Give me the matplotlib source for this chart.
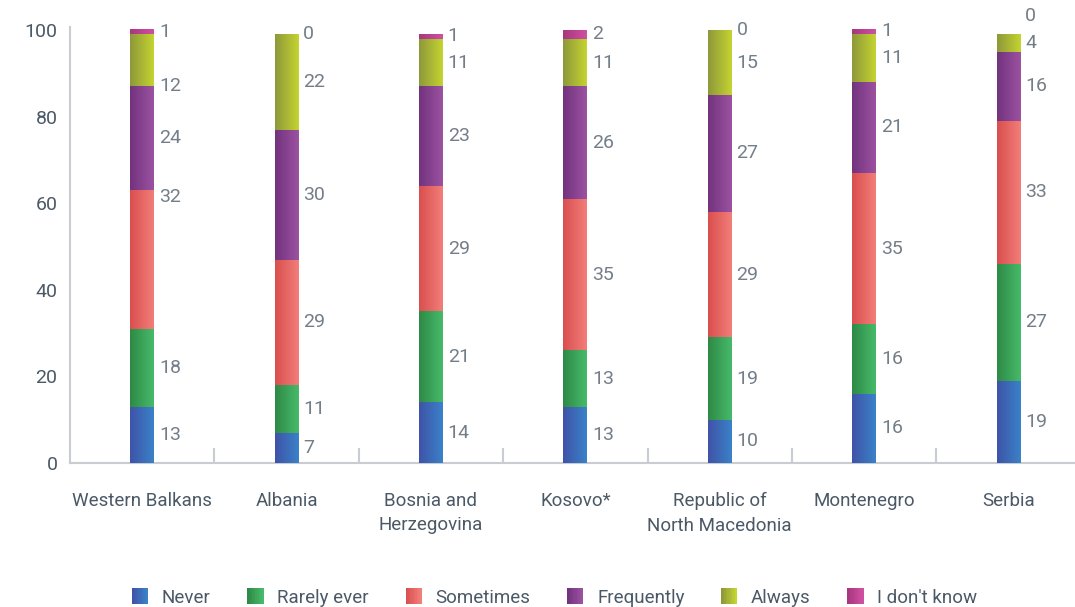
import numpy as np
import matplotlib
matplotlib.use("Agg")
import matplotlib.pyplot as plt
from matplotlib.colors import LinearSegmentedColormap
from matplotlib.legend_handler import HandlerBase
from matplotlib.patches import Rectangle

plt.rcParams['font.family'] = ['Roboto', 'DejaVu Sans']

categories = ["Western Balkans", "Albania", "Bosnia and\nHerzegovina", "Kosovo*",
              "Republic of\nNorth Macedonia", "Montenegro", "Serbia"]
series_names = ["Never", "Rarely ever", "Sometimes", "Frequently", "Always", "I don't know"]
never = [13, 7, 14, 13, 10, 16, 19]
rarely = [18, 11, 21, 13, 19, 16, 27]
sometimes = [32, 29, 29, 35, 29, 35, 33]
frequently = [24, 30, 23, 26, 27, 21, 16]
always = [12, 22, 11, 11, 15, 11, 4]
dont_know = [1, 0, 1, 2, 0, 1, 0]
y_ticks = [0, 20, 40, 60, 80, 100]

series = [never, rarely, sometimes, frequently, always, dont_know]
grad_colors = [
    ("#3f53a8", "#3a82c8"),
    ("#2e8a46", "#47ba6a"),
    ("#d94f4e", "#f27e7a"),
    ("#72337e", "#9c52a0"),
    ("#8e983a", "#c4d431"),
    ("#a7377e", "#cf50a2"),
]
label_color = "#737e89"
tick_color = "#4b5967"
spine_color = "#c9cdd1"

fig = plt.figure(figsize=(10.75, 6.07), dpi=100)
ax = fig.add_axes([0.0651, 0.2372, 0.9349, 0.7183])

x = np.arange(len(categories))
width = 0.166
bottom = np.zeros(len(categories))
cmaps = [LinearSegmentedColormap.from_list(f"g{k}", list(c)) for k, c in enumerate(grad_colors)]
grad = np.linspace(0, 1, 64).reshape(1, -1)

# manual label adjustments seen in the reference (label offsets, in data units)
label_shift = {(0, 2): 14.5, (0, 4): -6.0}

for s_idx, vals in enumerate(series):
    vals = np.array(vals, dtype=float)
    bars = ax.bar(x, vals, width, bottom=bottom, color=grad_colors[s_idx][1],
                  linewidth=0, zorder=2)
    for b in bars:
        if b.get_height() > 0:
            ax.imshow(grad, cmap=cmaps[s_idx], aspect='auto', interpolation='bilinear',
                      extent=[b.get_x(), b.get_x() + b.get_width(),
                              b.get_y(), b.get_y() + b.get_height()], zorder=3)
    bottom = bottom + vals

# value labels
for i in range(len(categories)):
    base = 0.0
    prev_y = -100
    for s_idx, vals in enumerate(series):
        v = vals[i]
        ymid = base + v / 2.0 + label_shift.get((i, s_idx), 0.0)
        if ymid < prev_y + 6.2:
            ymid = prev_y + 6.2
        ax.text(x[i] + width / 2 + 0.033, ymid, f"{v}", ha='left', va='center',
                fontsize=14, fontweight='normal', color=label_color, clip_on=False, zorder=4)
        prev_y = ymid
        base += v

ax.set_xlim(-0.5, 6.46)
ax.set_ylim(0, 100.7)
ax.set_yticks(y_ticks)
ax.set_yticklabels([str(t) for t in y_ticks])
ax.set_xticks(x)
ax.set_xticklabels(categories)
ax.set_xticks(np.arange(0.5, len(categories) - 1, 1.0), minor=True)
ax.tick_params(axis='x', which='major', length=0, pad=21, labelsize=13.5, labelcolor=tick_color)
ax.tick_params(axis='x', which='minor', direction='in', length=11, width=1.5, color=spine_color)
ax.tick_params(axis='y', length=0, pad=9, labelsize=14, labelcolor=tick_color)
for lab in ax.get_xticklabels():
    lab.set_linespacing(1.45)
    lab.set_va('top')

for sp in ['top', 'right']:
    ax.spines[sp].set_visible(False)
for sp in ['left', 'bottom']:
    ax.spines[sp].set_color(spine_color)
    ax.spines[sp].set_linewidth(1.5)


class GradHandler(HandlerBase):
    def __init__(self, c1, c2):
        super().__init__()
        self.c1, self.c2 = c1, c2

    def create_artists(self, legend, orig_handle, xdescent, ydescent, width, height, fontsize, trans):
        cm = LinearSegmentedColormap.from_list("h", [self.c1, self.c2])
        n = 10
        size = min(width, height * 1.25)
        x0 = -xdescent + (width - size) / 2
        y0 = -ydescent + (height - size) / 2
        arts = []
        for k in range(n):
            r = Rectangle((x0 + size * k / n, y0), size / n + 0.3, size,
                          facecolor=cm(k / (n - 1)), edgecolor='none', transform=trans)
            arts.append(r)
        return arts


handles = [Rectangle((0, 0), 1, 1) for _ in series_names]
handler_map = {h: GradHandler(*grad_colors[k]) for k, h in enumerate(handles)}
fig.legend(handles, series_names, handler_map=handler_map, loc='center',
           bbox_to_anchor=(0.516, 0.015), ncol=6, frameon=False, fontsize=13.5,
           labelcolor=tick_color, handlelength=0.85, handleheight=0.7, handletextpad=0.75,
           columnspacing=1.95, borderpad=0)

fig.savefig("out.png", dpi=100)
